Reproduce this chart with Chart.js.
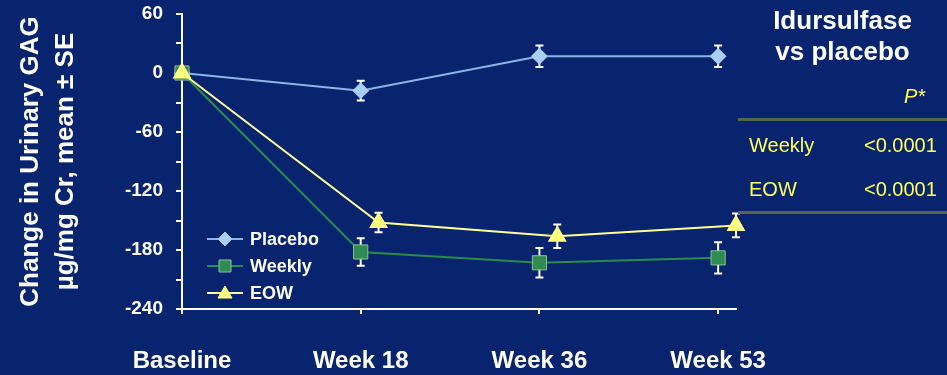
<!DOCTYPE html>
<html>
<head>
<meta charset="utf-8">
<script src="https://cdn.jsdelivr.net/npm/chart.js@4.4.1/dist/chart.umd.min.js"></script>
<style>
  html, body { margin: 0; padding: 0; background: #08246e; }
  #wrap { position: relative; width: 947px; height: 375px; font-family: "Liberation Sans", Arial, sans-serif; }
  #gag { position: absolute; left: 0; top: 0; }
  .side { position: absolute; color: #ffff5a; font-size: 20px; }
  .ttl { position: absolute; left: 738px; width: 209px; text-align: center; color: #fff; font-weight: bold; font-size: 26px; }
  .rule { position: absolute; left: 738px; width: 209px; height: 3px; background: #55654f; }
</style>
</head>
<body>
<div id="wrap">
  <canvas id="gag" width="947" height="375"></canvas>
  <div class="ttl" style="top:5px">Idursulfase</div>
  <div class="ttl" style="top:36px">vs placebo</div>
  <div class="side" style="left:904px;top:85px;font-style:italic">P*</div>
  <div class="rule" style="top:118px"></div>
  <div class="side" style="left:749px;top:134px">Weekly</div>
  <div class="side" style="left:864px;top:134px">&lt;0.0001</div>
  <div class="side" style="left:749px;top:178px">EOW</div>
  <div class="side" style="left:864px;top:178px">&lt;0.0001</div>
  <div class="rule" style="top:211px"></div>
</div>
<script>
var visits = ["Baseline", "Week 18", "Week 36", "Week 53"];
var visitPos = [0, 1, 2, 3];
var eowPos = [0, 1.1, 2.1, 3.1];

var placebo = [0, -18, 17, 17];
var placeboSE = [0, 10, 11, 11];
var weekly = [0, -182, -193, -188];
var weeklySE = [0, 14, 15, 16];
var eow = [0, -152, -166, -155];
var eowSE = [0, 10, 12, 12];

function pts(xs, ys) {
	return ys.map(function (y, i) { return { x: xs[i], y: y }; });
}

// white error bars (mean +/- SE), drawn under the markers
var errorBars = {
	id: 'errorBars',
	beforeDatasetsDraw: function (chart) {
		var ctx = chart.ctx, yScale = chart.scales.y;
		ctx.save();
		ctx.strokeStyle = '#ffffff';
		ctx.lineWidth = 2;
		chart.data.datasets.forEach(function (ds, d) {
			var meta = chart.getDatasetMeta(d);
			ds.se.forEach(function (se, i) {
				if (!se) return;
				var x = meta.data[i].x;
				var v = ds.data[i].y;
				var y1 = yScale.getPixelForValue(v + se);
				var y2 = yScale.getPixelForValue(v - se);
				ctx.beginPath();
				ctx.moveTo(x, y1); ctx.lineTo(x, y2);
				ctx.moveTo(x - 4, y1); ctx.lineTo(x + 4, y1);
				ctx.moveTo(x - 4, y2); ctx.lineTo(x + 4, y2);
				ctx.stroke();
			});
		});
		ctx.restore();
	}
};

// legend inside the plot, line through marker like the original
var innerLegend = {
	id: 'innerLegend',
	afterDraw: function (chart) {
		var ctx = chart.ctx;
		var x0 = 207, x1 = 243, rows = [239, 266, 293];
		ctx.save();
		chart.data.datasets.forEach(function (ds, i) {
			var y = rows[i], cx = (x0 + x1) / 2;
			ctx.strokeStyle = ds.borderColor;
			ctx.lineWidth = 2;
			ctx.beginPath(); ctx.moveTo(x0, y); ctx.lineTo(x1, y); ctx.stroke();
			ctx.fillStyle = ds.pointBackgroundColor;
			ctx.strokeStyle = ds.pointBorderColor;
			ctx.lineWidth = 1;
			ctx.beginPath();
			if (ds.pointStyle === 'rectRot') {
				ctx.moveTo(cx - 7, y); ctx.lineTo(cx, y - 7); ctx.lineTo(cx + 7, y); ctx.lineTo(cx, y + 7);
			} else if (ds.pointStyle === 'rect') {
				ctx.rect(cx - 6, y - 6, 12, 12);
			} else {
				ctx.moveTo(cx - 7, y + 5); ctx.lineTo(cx, y - 7); ctx.lineTo(cx + 7, y + 5);
			}
			ctx.closePath(); ctx.fill(); ctx.stroke();
			ctx.fillStyle = '#ffffff';
			ctx.font = 'bold 18px "Liberation Sans", Arial, sans-serif';
			ctx.textBaseline = 'middle';
			ctx.fillText(ds.label, 250, y + 1);
		});
		ctx.restore();
	}
};

var config = {
	type: 'line',
	data: {
		datasets: [{
			label: "Placebo",
			data: pts(visitPos, placebo),
			se: placeboSE,
			borderColor: "#8db4e6",
			borderWidth: 2,
			pointStyle: 'rectRot',
			pointRadius: 7,
			pointBackgroundColor: "#a8cef4",
			pointBorderColor: "#a8cef4",
			clip: false,
			order: 3
		}, {
			label: "Weekly",
			data: pts(visitPos, weekly),
			se: weeklySE,
			borderColor: "#2c8a4e",
			borderWidth: 2,
			pointStyle: 'rect',
			pointRadius: 10,
			pointBackgroundColor: "#2f8c50",
			pointBorderColor: "#8cbf9c",
			pointBorderWidth: 1,
			clip: false,
			order: 2
		}, {
			label: "EOW",
			data: pts(eowPos, eow),
			se: eowSE,
			borderColor: "#ffff99",
			borderWidth: 2,
			pointStyle: 'triangle',
			pointRadius: 9,
			pointBackgroundColor: "#ffff80",
			pointBorderColor: "#ffff80",
			clip: false,
			order: 1
		}]
	},
	options: {
		responsive: false,
		animation: false,
		layout: { padding: { left: 0, top: 14, right: 211, bottom: 0 } },
		plugins: { legend: { display: false }, tooltip: { enabled: false } },
		scales: {
			x: {
				type: 'linear',
				min: 0,
				max: 3.1,
				afterBuildTicks: function (scale) {
					scale.ticks = visitPos.map(function (v) { return { value: v }; });
				},
				afterFit: function (scale) {
					scale.height = 66;
					scale.paddingLeft = 0;
					scale.paddingRight = 0;
				},
				ticks: {
					color: '#ffffff',
					padding: 33,
					maxRotation: 0,
					font: { family: '"Liberation Sans", Arial, sans-serif', size: 24, weight: 'bold' },
					callback: function (v) { return visits[v]; }
				},
				grid: { drawOnChartArea: false, drawTicks: true, tickLength: 5, color: '#ffffff', lineWidth: 2 },
				border: { color: '#ffffff', width: 2 }
			},
			y: {
				min: -240,
				max: 60,
				afterFit: function (scale) {
					scale.width = 182;
					scale.paddingTop = 0;
					scale.paddingBottom = 0;
				},
				ticks: {
					stepSize: 30,
					color: '#ffffff',
					padding: 13,
					font: { family: '"Liberation Sans", Arial, sans-serif', size: 19, weight: 'bold' },
					callback: function (v) { return v % 60 === 0 ? v : ''; }
				},
				grid: { drawOnChartArea: false, drawTicks: true, tickLength: 6, color: '#ffffff', lineWidth: 2 },
				border: { color: '#ffffff', width: 2 },
				title: {
					display: true,
					text: ["Change in Urinary GAG", "µg/mg Cr, mean ± SE"],
					color: '#ffffff',
					padding: { top: 13, bottom: 0 },
					font: { family: '"Liberation Sans", Arial, sans-serif', size: 26, weight: 'bold', lineHeight: 1.35 }
				}
			}
		}
	},
	plugins: [errorBars, innerLegend]
};

var ctx = document.getElementById("gag").getContext("2d");
window.gagChart = new Chart(ctx, config);
</script>
</body>
</html>
